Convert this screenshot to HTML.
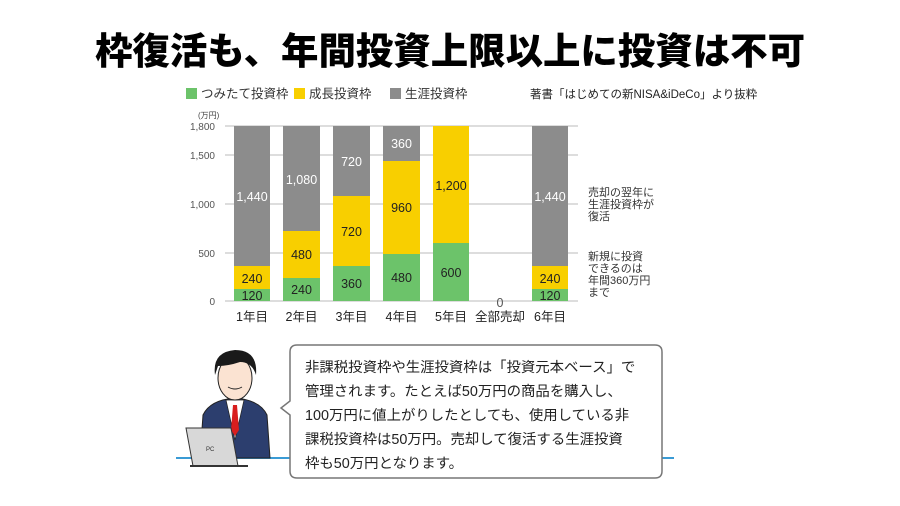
<!DOCTYPE html>
<html><head><meta charset="utf-8"><style>
html,body{margin:0;padding:0;background:#fff;}
svg{display:block;font-family:"Liberation Sans","Noto Sans CJK JP",sans-serif;}
</style></head><body>
<svg width="900" height="506" viewBox="0 0 900 506" xmlns="http://www.w3.org/2000/svg">
<text x="450" y="64" text-anchor="middle" font-size="37" font-weight="900" fill="#000" textLength="710" lengthAdjust="spacingAndGlyphs">枠復活も、年間投資上限以上に投資は不可</text>
<!-- legend -->
<rect x="186" y="88" width="11" height="11" fill="#6cc36a"/>
<text x="201" y="98" font-size="12.5" fill="#333">つみたて投資枠</text>
<rect x="294" y="88" width="11" height="11" fill="#f8cf00"/>
<text x="309" y="98" font-size="12.5" fill="#333">成長投資枠</text>
<rect x="390" y="88" width="11" height="11" fill="#8c8c8c"/>
<text x="405" y="98" font-size="12.5" fill="#333">生涯投資枠</text>
<text x="530" y="98" font-size="11.5" fill="#222">著書「はじめての新NISA&amp;iDeCo」より抜粋</text>
<!-- axis -->
<text x="198" y="118" font-size="8" fill="#444">(万円)</text>
<g font-size="10" fill="#555" text-anchor="end">
<text x="215" y="130">1,800</text><text x="215" y="159">1,500</text><text x="215" y="208">1,000</text><text x="215" y="257">500</text><text x="215" y="305">0</text>
</g>
<g stroke="#bbb" stroke-width="1">
<line x1="225" y1="126" x2="578" y2="126"/><line x1="225" y1="155" x2="578" y2="155"/><line x1="225" y1="204" x2="578" y2="204"/><line x1="225" y1="253" x2="578" y2="253"/><line x1="225" y1="301" x2="578" y2="301"/>
</g>
<!-- bars -->
<g>
<rect x="234" y="126" width="36" height="140" fill="#8c8c8c"/><rect x="234" y="266" width="36" height="23" fill="#f8cf00"/><rect x="234" y="289" width="36" height="12" fill="#6cc36a"/>
<rect x="283" y="126" width="37" height="105" fill="#8c8c8c"/><rect x="283" y="231" width="37" height="47" fill="#f8cf00"/><rect x="283" y="278" width="37" height="23" fill="#6cc36a"/>
<rect x="333" y="126" width="37" height="70" fill="#8c8c8c"/><rect x="333" y="196" width="37" height="70" fill="#f8cf00"/><rect x="333" y="266" width="37" height="35" fill="#6cc36a"/>
<rect x="383" y="126" width="37" height="35" fill="#8c8c8c"/><rect x="383" y="161" width="37" height="93" fill="#f8cf00"/><rect x="383" y="254" width="37" height="47" fill="#6cc36a"/>
<rect x="433" y="126" width="36" height="117" fill="#f8cf00"/><rect x="433" y="243" width="36" height="58" fill="#6cc36a"/>
<rect x="532" y="126" width="36" height="140" fill="#8c8c8c"/><rect x="532" y="266" width="36" height="23" fill="#f8cf00"/><rect x="532" y="289" width="36" height="12" fill="#6cc36a"/>
</g>
<g font-size="12.5" text-anchor="middle" fill="#fff">
<text x="252" y="201">1,440</text><text x="301.5" y="184">1,080</text><text x="351.5" y="166">720</text><text x="401.5" y="148">360</text><text x="550" y="201">1,440</text>
</g>
<g font-size="12.5" text-anchor="middle" fill="#222">
<text x="252" y="283">240</text><text x="252" y="300">120</text>
<text x="301.5" y="259">480</text><text x="301.5" y="294">240</text>
<text x="351.5" y="236">720</text><text x="351.5" y="288">360</text>
<text x="401.5" y="212">960</text><text x="401.5" y="282">480</text>
<text x="451" y="190">1,200</text><text x="451" y="277">600</text>
<text x="550" y="283">240</text><text x="550" y="300">120</text>
<text x="500" y="307" fill="#555">0</text>
</g>
<g font-size="12.5" text-anchor="middle" fill="#222">
<text x="252" y="321">1年目</text><text x="301.5" y="321">2年目</text><text x="351.5" y="321">3年目</text><text x="401.5" y="321">4年目</text><text x="451" y="321">5年目</text><text x="500" y="321">全部売却</text><text x="550" y="321">6年目</text>
</g>
<g font-size="11" fill="#333">
<text x="588" y="196">売却の翌年に</text><text x="588" y="208">生涯投資枠が</text><text x="588" y="220">復活</text>
<text x="588" y="260">新規に投資</text><text x="588" y="272">できるのは</text><text x="588" y="284">年間360万円</text><text x="588" y="296">まで</text>
</g>
<!-- baseline -->
<line x1="176" y1="458" x2="674" y2="458" stroke="#3a9bd5" stroke-width="2"/>
<!-- person -->
<path d="M200 458 L203 415 Q210 400 235 398 Q260 400 267 415 L270 458 Z" fill="#2c3e6e" stroke="#222"/>
<path d="M226 400 L235 440 L244 400 Z" fill="#fff" stroke="#222" stroke-width="0.7"/>
<path d="M233 405 L237 405 L239 430 L235 436 L231 430 Z" fill="#d81e1e"/>
<ellipse cx="235" cy="378" rx="17" ry="22" fill="#fbe3d2" stroke="#222"/>
<path d="M215 375 Q212 352 235 350 Q258 350 256 375 Q252 362 240 362 Q228 366 218 366 Z" fill="#1a1a1a"/>
<path d="M228 387 Q235 391 242 387" stroke="#222" fill="none"/>
<path d="M186 428 L231 428 L238 466 L193 466 Z" fill="#d8d8d8" stroke="#333"/>
<text x="206" y="451" font-size="6" fill="#333">PC</text>
<path d="M190 466 L248 466" stroke="#333" stroke-width="2"/>
<!-- bubble -->
<path d="M297 345 H655 Q662 345 662 352 V471 Q662 478 655 478 H297 Q290 478 290 471 V415 L281 408 L290 401 V352 Q290 345 297 345 Z" fill="#fff" stroke="#777" stroke-width="1.5"/>
<g font-size="14.4" fill="#222">
<text x="305" y="372">非課税投資枠や生涯投資枠は「投資元本ベース」で</text>
<text x="305" y="396">管理されます。たとえば50万円の商品を購入し、</text>
<text x="305" y="420">100万円に値上がりしたとしても、使用している非</text>
<text x="305" y="444">課税投資枠は50万円。売却して復活する生涯投資</text>
<text x="305" y="468">枠も50万円となります。</text>
</g>
</svg>
</body></html>
